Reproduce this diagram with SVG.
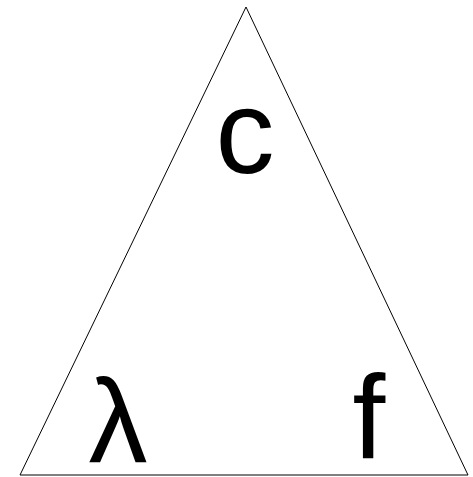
<svg xmlns="http://www.w3.org/2000/svg" width="473" height="477" viewBox="0 0 473 477">
<style>
.lbl{font-family:"Liberation Sans",Arial,sans-serif;font-size:118px;fill:#000;text-anchor:middle}
</style>
<rect width="473" height="477" fill="#fff"/>
<g id="triangle"><polygon points="246,7 20,475 468,475" fill="none" stroke="#000" stroke-width="1"/></g>
<g id="c"><text class="lbl" x="245" y="173">c</text></g>
<g id="lambda"><text class="lbl" x="118" y="462">λ</text></g>
<g id="f"><text class="lbl" x="369" y="458">f</text></g>
</svg>
